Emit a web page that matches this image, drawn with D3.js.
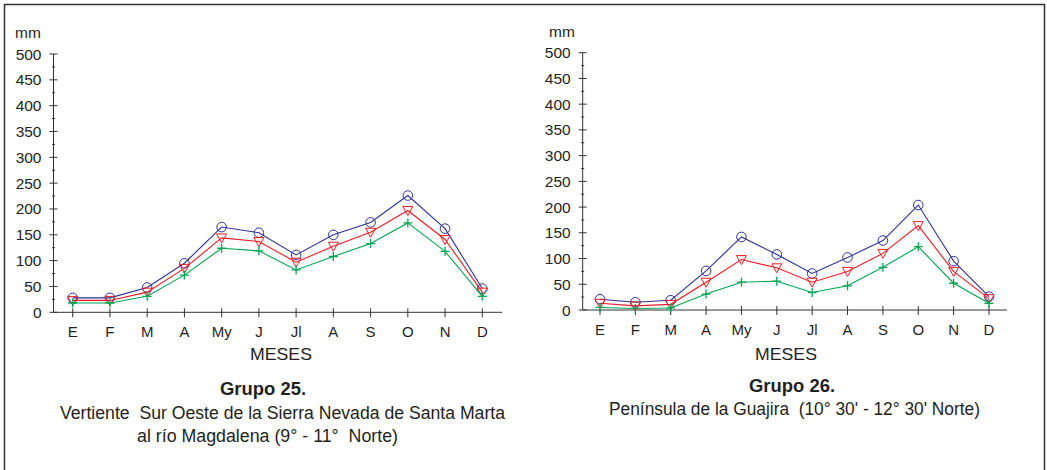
<!DOCTYPE html>
<html>
<head>
<meta charset="utf-8">
<script src="https://cdn.jsdelivr.net/npm/d3@7"></script>
<style>
 body { margin: 0; background: #fff; }
 svg text { font-family: "Liberation Sans", Arial, sans-serif; fill: #231f20; white-space: pre; }
 .narrow { font-family: "Liberation Sans Narrow", "Liberation Sans", Arial, sans-serif; }
</style>
</head>
<body>
<div id="chart"></div>
<script>
// months and y ticks
var months = ["E", "F", "M", "A", "My", "J", "Jl", "A", "S", "O", "N", "D"];
var yTicks = [0, 50, 100, 150, 200, 250, 300, 350, 400, 450, 500];

// Grupo 25 series (mm)
var g25Blue  = [28, 28, 48, 95, 165, 154, 111, 150, 174, 226, 162, 46];
var g25Red   = [23, 23, 39, 85, 144, 137, 97, 128, 155, 197, 141, 39];
var g25Green = [18, 18, 31, 72, 124, 119, 82, 108, 133, 173, 118, 31];

// Grupo 26 series (mm)
var g26Blue  = [21, 15, 19, 76, 142, 108, 71, 102, 135, 204, 95, 26];
var g26Red   = [13, 8, 11, 54, 98, 82, 54, 75, 110, 164, 75, 22];
var g26Green = [5, 3, 4, 31, 54, 56, 34, 47, 83, 123, 52, 13];

var W = 1047, H = 470;
var svg = d3.select("#chart").append("svg")
 .attr("width", W)
 .attr("height", H);

// outer frame (bottom edge runs off the picture)
svg.append("rect")
 .attr("x", 4.5).attr("y", 4.5)
 .attr("width", 1040).attr("height", 500)
 .attr("fill", "none")
 .attr("stroke", "#333")
 .attr("stroke-width", 1.5);

var colors = { blue: "#2e3192", red: "#ed1c24", green: "#00a651" };

// centred text squeezed to the width it has in the picture
function label(g, t, x, y, size, len, bold) {
 g.append("text")
   .attr("class", "narrow")
   .attr("x", x - len / 2).attr("y", y)
   .attr("textLength", len)
   .attr("lengthAdjust", "spacingAndGlyphs")
   .style("font-size", size + "px")
   .style("font-weight", bold ? "bold" : "normal")
   .text(t);
}

function drawPanel(cfg) {
 var g = svg.append("g");

 var x = d3.scalePoint().domain(d3.range(months.length))
   .range([cfg.x0, cfg.x1]);
 var y = d3.scaleLinear().domain([0, 500]).range([cfg.yb, cfg.yt]);

 // y axis line + ticks crossing the line
 g.append("line")
   .attr("x1", cfg.ax).attr("x2", cfg.ax)
   .attr("y1", y(500)).attr("y2", y(0))
   .attr("stroke", "#333");
 g.selectAll(".ymin").data(d3.range(0, 501, 25)).enter().append("line")
   .attr("x1", function (d) { return d % 50 == 0 ? cfg.ax - 4 : cfg.ax - 1.5; })
   .attr("x2", function (d) { return d % 50 == 0 ? cfg.ax + 4 : cfg.ax + 1.5; })
   .attr("y1", function (d) { return y(d); })
   .attr("y2", function (d) { return y(d); })
   .attr("stroke", "#333");
 g.selectAll(".ylab").data(yTicks).enter().append("text")
   .attr("x", cfg.ax - 12)
   .attr("y", function (d) { return y(d) + 5.5; })
   .attr("text-anchor", "end")
   .style("font-size", "15.5px")
   .text(function (d) { return d; });

 g.append("text")
   .attr("x", cfg.mmx).attr("y", cfg.yt - 16)
   .style("font-size", "15.5px")
   .text("mm");

 // x axis line + ticks
 g.append("line")
   .attr("x1", cfg.ax).attr("x2", cfg.xe)
   .attr("y1", y(0)).attr("y2", y(0))
   .attr("stroke", "#333");
 g.selectAll(".xt").data(d3.range(months.length)).enter().append("line")
   .attr("x1", function (d) { return x(d); })
   .attr("x2", function (d) { return x(d); })
   .attr("y1", y(0) - 4).attr("y2", y(0) + 5)
   .attr("stroke", "#333");
 g.selectAll(".xlab").data(months).enter().append("text")
   .attr("x", function (d, i) { return x(i); })
   .attr("y", y(0) + 25)
   .attr("text-anchor", "middle")
   .style("font-size", "15px")
   .text(function (d) { return d; });

 label(g, "MESES", cfg.mesesX, 360, 17, 62, false);

 var line = d3.line()
   .x(function (d, i) { return x(i); })
   .y(function (d) { return y(d); });

 cfg.series.forEach(function (s) {
   g.append("path")
     .datum(s.values)
     .attr("d", line)
     .attr("fill", "none")
     .attr("stroke", s.color)
     .attr("stroke-width", 1.1);

   var pts = g.selectAll(null).data(s.values).enter();
   if (s.marker == "circle") {
     pts.append("circle")
       .attr("cx", function (d, i) { return x(i); })
       .attr("cy", function (d) { return y(d); })
       .attr("r", 4.8)
       .attr("fill", "none")
       .attr("stroke", s.color);
   } else if (s.marker == "tri") {
     pts.append("path")
       .attr("transform", function (d, i) { return "translate(" + x(i) + "," + y(d) + ")"; })
       .attr("d", "M-5,-4L5,-4L0,5Z")
       .attr("fill", "none")
       .attr("stroke", s.color);
   } else {
     pts.append("path")
       .attr("transform", function (d, i) { return "translate(" + x(i) + "," + y(d) + ")"; })
       .attr("d", "M-4.5,0L4.5,0M0,-4.5L0,4.5")
       .attr("fill", "none")
       .attr("stroke", s.color)
       .attr("stroke-width", 1.3);
   }
 });

 // captions
 label(g, cfg.title, cfg.titleX, cfg.titleY, 18, 86, true);
 cfg.sub.forEach(function (s, i) {
   label(g, s.t, s.x, cfg.subY + i * 23, 17.5, s.len, false);
 });
}

drawPanel({
 ax: 53.5, x0: 72.7, x1: 482.3, xe: 502, yb: 312.3, yt: 54,
 mmx: 15, mesesX: 281, titleX: 263, titleY: 395, subY: 419,
 title: "Grupo 25.",
 sub: [{ t: "Vertiente  Sur Oeste de la Sierra Nevada de Santa Marta", x: 282.5, len: 445 },
       { t: "al río Magdalena (9° - 11°  Norte)", x: 267.5, len: 261 }],
 series: [
   { values: g25Blue, color: colors.blue, marker: "circle" },
   { values: g25Red, color: colors.red, marker: "tri" },
   { values: g25Green, color: colors.green, marker: "plus" }
 ]
});

drawPanel({
 ax: 582.7, x0: 600, x1: 989, xe: 1007, yb: 310, yt: 52.7,
 mmx: 549, mesesX: 786, titleX: 792, titleY: 392, subY: 415,
 title: "Grupo 26.",
 sub: [{ t: "Península de la Guajira  (10° 30' - 12° 30' Norte)", x: 794.5, len: 371 }],
 series: [
   { values: g26Blue, color: colors.blue, marker: "circle" },
   { values: g26Red, color: colors.red, marker: "tri" },
   { values: g26Green, color: colors.green, marker: "plus" }
 ]
});
</script>
</body>
</html>
